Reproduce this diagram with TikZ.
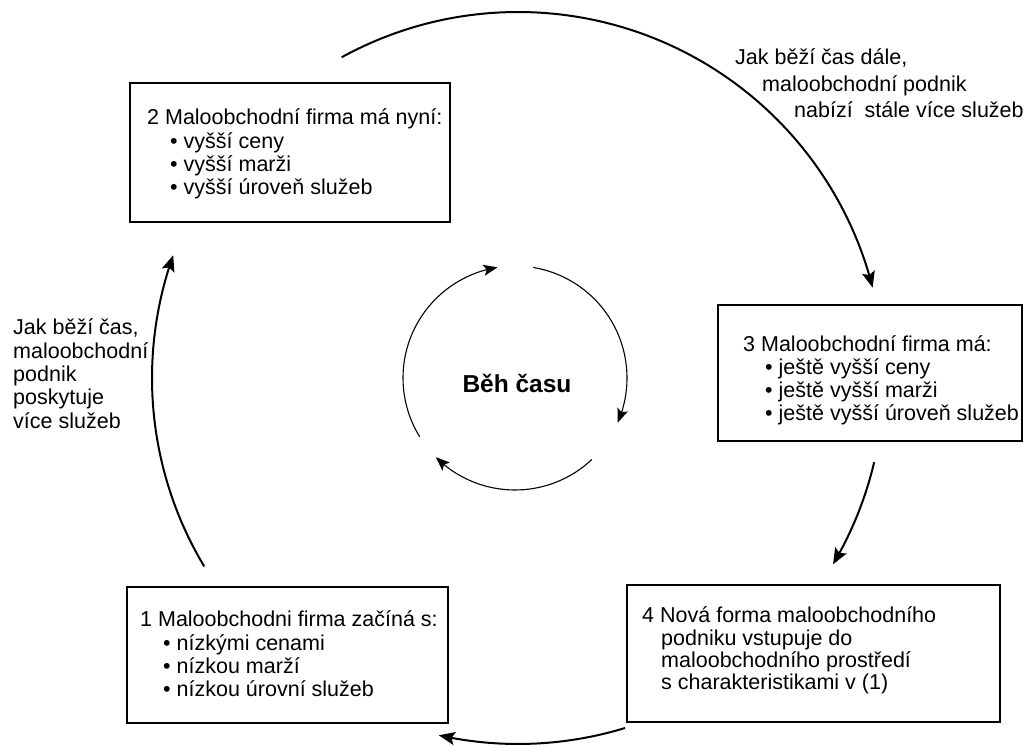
\documentclass[tikz,border=0pt]{standalone}
\usepackage{fontspec}
\setmainfont{Liberation Sans}
\usetikzlibrary{arrows.meta,bending}
\begin{document}
\begin{tikzpicture}[x=1pt,y=1pt,
  box/.style={draw, line width=1.4pt, inner sep=0pt, minimum width=#1},
  txt/.style={anchor=base west, inner sep=0pt, font=\fontsize{21.5}{23.3}\selectfont},
  bigarc/.style={line width=2pt, -{Stealth[length=16pt,width=13pt,inset=3pt]}},
  smallarc/.style={line width=1.1pt, -{Stealth[length=14pt,width=11pt,inset=3pt]}}]
\useasboundingbox (0,0) rectangle (1026,746);
% boxes
\node[box=320pt, minimum height=139pt] (b2) at (290,593.5) {};
\node[box=304pt, minimum height=136pt] (b3) at (870,373) {};
\node[box=373pt, minimum height=137pt] (b4) at (813.5,92.5) {};
\node[box=321pt, minimum height=136pt] (b1) at (287.5,91) {};
% texts
\node[txt] (t2) at (147,621) {\begin{tabular}[t]{@{}l@{}}2 Maloobchodní firma má nyní:\\\hspace*{23pt}• vyšší ceny\\\hspace*{23pt}• vyšší marži\\\hspace*{23pt}• vyšší úroveň služeb\end{tabular}};
\node[txt, font=\fontsize{21.5}{23}\selectfont] (t3) at (743,394) {\begin{tabular}[t]{@{}l@{}}3 Maloobchodní firma má:\\\hspace*{22pt}• ještě vyšší ceny\\\hspace*{22pt}• ještě vyšší marži\\\hspace*{22pt}• ještě vyšší úroveň služeb\end{tabular}};
\node[txt, font=\fontsize{21.5}{22}\selectfont] (t4) at (642,123) {\begin{tabular}[t]{@{}l@{}}4 Nová forma maloobchodního\\\hspace*{19pt}podniku vstupuje do\\\hspace*{19pt}maloobchodního prostředí\\\hspace*{19pt}s charakteristikami v (1)\end{tabular}};
\node[txt] (t1) at (140,119) {\begin{tabular}[t]{@{}l@{}}1 Maloobchodni firma začíná s:\\\hspace*{23pt}• nízkými cenami\\\hspace*{23pt}• nízkou marží\\\hspace*{23pt}• nízkou úrovní služeb\end{tabular}};
\node[txt, font=\fontsize{21.5}{26.5}\selectfont] (lr) at (735,681) {\begin{tabular}[t]{@{}l@{}}Jak běží čas dále,\\\hspace*{27pt}maloobchodní podnik\\\hspace*{59pt}nabízí\ \ stále více služeb\end{tabular}};
\node[txt] (ll) at (13,411) {\begin{tabular}[t]{@{}l@{}}Jak běží čas,\\maloobchodní\\podnik\\poskytuje\\více služeb\end{tabular}};
\node[inner sep=0pt, font=\fontsize{24.5}{26}\selectfont\bfseries] (beh) at (517,363) {Běh času};
% big circle
\coordinate (C) at (518,368);
\coordinate (c) at (515,368);
\coordinate (a1s) at ([shift={(118.8:366)}]C);
\coordinate (a2s) at ([shift={(-13.3:366)}]C);
\coordinate (a3s) at ([shift={(-73:366)}]C);
\coordinate (a4s) at ([shift={(211:366)}]C);
\draw[bigarc] (a1s) arc[start angle=118.8, end angle=14.3, radius=366];
\draw[bigarc] (a2s) arc[start angle=-13.3, end angle=-30.6, radius=366];
\draw[bigarc] (a3s) arc[start angle=-73, end angle=-102.5, radius=366];
\draw[bigarc] (a4s) arc[start angle=211, end angle=160.4, radius=366];
% small circle
\coordinate (s1) at ([shift={(211.7:112)}]c);
\coordinate (s2) at ([shift={(80.6:112)}]c);
\coordinate (s3) at ([shift={(-46.7:112)}]c);
\draw[smallarc] (s1) arc[start angle=211.7, end angle=99, radius=112];
\draw[smallarc] (s2) arc[start angle=80.6, end angle=-23.5, radius=112];
\draw[smallarc] (s3) arc[start angle=-46.7, end angle=-135, radius=112];
\end{tikzpicture}
\end{document}
